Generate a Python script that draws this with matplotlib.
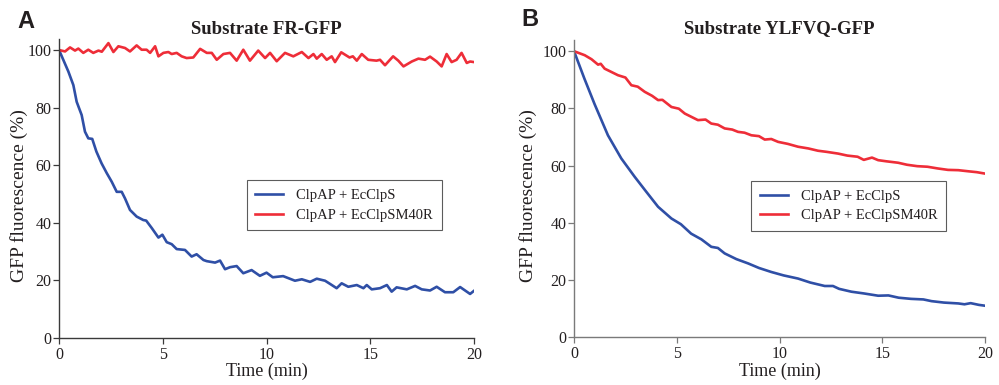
import matplotlib
matplotlib.use("Agg")
import matplotlib.pyplot as plt

plt.rcParams['font.family'] = ['Liberation Serif', 'DejaVu Serif']

# ---------------- data ----------------
# Panel A: Substrate FR-GFP
t_a_blue = [0, 0.45, 0.69, 0.85, 1.09, 1.25, 1.41, 1.6, 1.8, 2.05, 2.3, 2.54, 2.78, 3.02,
            3.18, 3.42, 3.74, 4.06, 4.2, 4.47, 4.79, 4.98, 5.19, 5.43, 5.67, 6.07, 6.39,
            6.63, 6.96, 7.12, 7.52, 7.76, 8.0, 8.24, 8.56, 8.88, 9.28, 9.68, 10.0, 10.3,
            10.8, 11.37, 11.7, 12.1, 12.42, 12.82, 13.06, 13.38, 13.62, 13.94, 14.35,
            14.67, 14.83, 15.07, 15.47, 15.8, 16.03, 16.27, 16.76, 17.16, 17.48, 17.88,
            18.2, 18.6, 19.0, 19.33, 19.81, 20.0]
a_blue = [100, 92.5, 87.8, 82.0, 77.4, 71.6, 69.3, 69.1, 64.7, 60.6, 57.2, 54.2, 50.7, 50.7,
          48.4, 44.4, 42.1, 40.9, 40.7, 38.1, 34.8, 35.8, 33.2, 32.5, 30.8, 30.5, 28.2,
          29.0, 27.0, 26.6, 26.1, 26.8, 23.8, 24.5, 24.9, 22.4, 23.5, 21.5, 22.6, 21.0,
          21.4, 19.8, 20.3, 19.4, 20.5, 19.8, 18.7, 17.2, 18.9, 17.7, 18.3,
          17.2, 18.3, 16.8, 17.2, 18.3, 16.0, 17.5, 16.8, 18.0, 16.8, 16.4,
          17.7, 15.8, 15.8, 17.6, 15.2, 16.3]

t_a_red = [0, 0.29, 0.53, 0.77, 0.93, 1.17, 1.41, 1.65, 1.9, 2.06, 2.38, 2.62, 2.86, 3.18,
           3.42, 3.74, 3.98, 4.22, 4.39, 4.63, 4.79, 5.03, 5.27, 5.43, 5.67, 5.91, 6.15,
           6.47, 6.8, 7.12, 7.36, 7.6, 7.92, 8.24, 8.56, 8.88, 9.2, 9.6, 9.93, 10.17,
           10.49, 10.89, 11.29, 11.7, 12.02, 12.26, 12.42, 12.66, 12.9, 13.14, 13.3,
           13.6, 14.0, 14.16, 14.35, 14.59, 14.9, 15.3, 15.47, 15.71, 16.1, 16.35, 16.6,
           17.0, 17.32, 17.64, 17.88, 18.2, 18.44, 18.68, 18.92, 19.16, 19.4, 19.65,
           19.81, 20.0]
a_red = [100, 99.5, 100.9, 99.8, 100.5, 99.0, 100.1, 99.0, 99.8, 99.4, 102.4, 99.3, 101.3, 100.7,
         99.5, 101.6, 100.1, 100.1, 99.0, 101.3, 97.8, 99.0, 99.3, 98.6, 99.0, 97.8, 97.2,
         97.4, 100.4, 99.0, 99.0, 96.6, 98.6, 99.0, 96.3, 100.1, 96.3, 99.8, 97.2, 99.0,
         96.1, 99.0, 97.8, 99.3, 97.2, 98.6, 97.0, 98.6, 96.6, 97.8, 95.8,
         99.2, 97.4, 97.8, 96.3, 98.6, 96.6, 96.3, 96.6, 94.7, 97.8, 96.3, 94.3,
         96.0, 97.0, 96.6, 97.7, 96.0, 94.3, 98.6, 95.8, 96.6, 99.0, 95.5,
         96.0, 95.8]

# Panel B: Substrate YLFVQ-GFP
t_b_blue = [0, 0.5, 1.0, 1.65, 2.3, 2.95, 3.5, 4.09, 4.74, 5.2, 5.7, 6.2, 6.68, 7.0, 7.33,
            7.9, 8.47, 9.0, 9.6, 10.2, 10.9, 11.5, 12.2, 12.6, 12.9, 13.5, 14.1, 14.8,
            15.3, 15.8, 16.4, 17.0, 17.4, 18.0, 18.7, 19.0, 19.3, 19.7, 20.0]
b_blue = [100, 90.5, 81.5, 70.6, 62.5, 56.1, 51.0, 45.6, 41.5, 39.5, 36.2, 34.2, 31.6, 31.2, 29.3,
          27.3, 25.8, 24.2, 22.8, 21.6, 20.5, 19.1, 17.9, 17.9, 16.9, 15.9, 15.3, 14.5,
          14.6, 13.8, 13.4, 13.2, 12.6, 12.1, 11.8, 11.5, 11.9, 11.3, 11.0]

t_b_red = [0, 0.52, 0.85, 1.17, 1.3, 1.49, 2.14, 2.5, 2.79, 3.1, 3.44, 3.8, 4.09, 4.3, 4.74,
           5.1, 5.39, 6.03, 6.4, 6.68, 7.0, 7.33, 7.7, 7.98, 8.3, 8.63, 9.0, 9.28, 9.6,
           9.93, 10.4, 10.9, 11.4, 11.87, 12.3, 12.85, 13.3, 13.8, 14.1, 14.5, 14.8, 15.2,
           15.77, 16.2, 16.7, 17.2, 17.7, 18.2, 18.7, 19.2, 19.6, 20.0]
b_red = [100, 98.6, 97.2, 95.3, 95.6, 93.9, 91.6, 90.8, 88.1, 87.6, 85.8, 84.4, 82.9, 83.0, 80.5,
         79.9, 78.2, 75.9, 76.1, 74.7, 74.3, 73.0, 72.6, 71.8, 71.5, 70.6, 70.3, 69.1, 69.3,
         68.3, 67.6, 66.6, 66.0, 65.2, 64.8, 64.2, 63.5, 63.1, 62.0, 62.8, 61.9, 61.5,
         61.0, 60.3, 59.8, 59.6, 59.0, 58.5, 58.4, 58.0, 57.7, 57.2]

labels = ["ClpAP + EcClpS", "ClpAP + EcClpSM40R"]
titles = ["Substrate FR-GFP", "Substrate YLFVQ-GFP"]
panel_letters = ["A", "B"]
x_ticks = [0, 5, 10, 15, 20]
y_ticks = [0, 20, 40, 60, 80, 100]

BLUE = "#2f4fa6"
RED = "#ee2d38"
TXT = "#231f20"

fig = plt.figure(figsize=(9.99, 3.85), dpi=100)

axA = fig.add_axes([0.0591, 0.1229, 0.4154, 0.7771])
axB = fig.add_axes([0.5746, 0.1242, 0.4114, 0.7725])

panels = [
    (axA, t_a_blue, a_blue, t_a_red, a_red, "#3a3a3a", 1.5, (0.452, 0.527), -0.075),
    (axB, t_b_blue, b_blue, t_b_red, b_red, "#7a7a7a", 5.0, (0.431, 0.526), -0.09),
]

for i, (ax, tb, vb, tr, vr, spc, tpad, lpos, ylx) in enumerate(panels):
    ax.plot(tb, vb, color=BLUE, lw=1.9, label=labels[0], solid_joinstyle='round')
    ax.plot(tr, vr, color=RED, lw=1.9, label=labels[1], solid_joinstyle='round')
    ax.set_xlim(0, 20)
    ax.set_ylim(0, 104)
    ax.set_xticks(x_ticks)
    ax.set_yticks(y_ticks)
    for s in ["top", "right"]:
        ax.spines[s].set_visible(False)
    for s in ["left", "bottom"]:
        ax.spines[s].set_color(spc)
        ax.spines[s].set_linewidth(1.0)
    ax.tick_params(direction='out', length=4, width=0.9, color=spc,
                   labelsize=11.5, labelcolor=TXT, pad=1.5)
    ax.tick_params(axis='x', pad=2.5)
    ax.set_xlabel("Time (min)", fontsize=13, color=TXT, labelpad=0)
    ax.xaxis.set_label_coords(0.5, -0.085)
    ax.set_ylabel("GFP fluorescence (%)", fontsize=14, color=TXT)
    ax.yaxis.set_label_coords(ylx, 0.475)
    ax.set_title(titles[i], fontsize=13.5, fontweight='bold', color=TXT, pad=tpad)
    leg = ax.legend(loc='upper left', bbox_to_anchor=lpos, borderaxespad=0,
                    fontsize=10.5, frameon=True, fancybox=False, handlelength=1.9,
                    handletextpad=0.9, borderpad=0.6, labelspacing=0.45)
    leg.get_frame().set_edgecolor("#333333")
    leg.get_frame().set_linewidth(0.8)
    for txt in leg.get_texts():
        txt.set_color(TXT)

fig.text(0.017, 0.975, "A", fontsize=17, fontweight='bold', family='Liberation Sans',
         va='top', ha='left', color=TXT)
fig.text(0.5215, 0.978, "B", fontsize=17, fontweight='bold', family='Liberation Sans',
         va='top', ha='left', color=TXT)

fig.savefig("out.png", dpi=100)
